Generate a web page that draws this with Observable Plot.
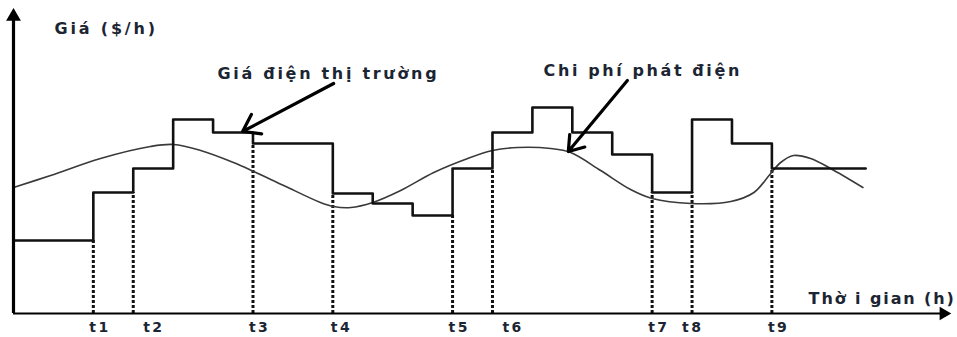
<!DOCTYPE html>
<html>
<head>
<meta charset="utf-8">
<script src="https://cdn.jsdelivr.net/npm/d3@7"></script>
<script src="https://cdn.jsdelivr.net/npm/@observablehq/plot@0.6"></script>
<style>
  html, body { margin: 0; padding: 0; background: #fff; }
  #chart svg { display: block; }
</style>
</head>
<body>
<div id="chart"></div>
<script>
// Market price step levels: each step starts at stepStart[i] and holds stepPrice[i]
const stepStart = [0, 2, 3, 4, 5, 6, 8, 9, 10, 11, 12, 13, 14, 15, 16, 17, 18, 19, 21.35];
const stepPrice = [73, 121, 145, 194, 181, 170, 120, 110, 98, 145, 181, 206, 181, 159, 121, 194, 170, 145, 145];

// Generation cost curve (smooth)
const costHour = [0, 0.93, 2.18, 3.43, 4.01, 4.69, 5.51, 6.02, 6.77, 7.69, 8.02, 8.45, 9.0, 9.7, 10.53, 11.38, 12.0, 12.63, 13.46, 13.96, 14.71, 15.46, 16.0, 16.97, 17.97, 18.55, 18.95, 19.22, 19.54, 19.97, 20.47, 21.28];
const costValue = [126, 138, 155, 167, 169, 163, 151, 142, 128, 111, 107, 106, 111, 123, 141, 155, 163, 166, 165, 161, 143, 124, 115, 110, 112, 121, 139, 151, 158, 155, 145, 126];

// Time marks t1..t9
const tickLabels = ["t1", "t2", "t3", "t4", "t5", "t6", "t7", "t8", "t9"];
const tickHour = [2, 3, 6, 8, 11, 12, 16, 17, 19];
const tickLabelHour = [1.9, 3.25, 5.9, 7.95, 10.9, 12.25, 15.9, 16.75, 18.9];

// Annotation texts
const yTitle = "Giá ($/h)";
const xTitle = "Thờ i gian (h)";
const priceLabel = "Giá điện thị trường";
const costLabel = "Chi phí phát điện";

// Build data tables
const steps = stepStart.map((x, i) => ({x, y: stepPrice[i]}));
const cost = costHour.map((x, i) => ({x, y: costValue[i]}));
const levelAt = (h) => {
  const i = stepStart.indexOf(h);
  return Math.min(stepPrice[i], stepPrice[i - 1]);
};
const ticks = tickHour.map((h, i) => ({x: h, y: levelAt(h), label: tickLabels[i], lx: tickLabelHour[i]}));

const textColor = "#1c2533";
const font = "'DejaVu Sans', sans-serif";

const chart = Plot.plot({
  width: 957,
  height: 337,
  marginLeft: 13,
  marginRight: 6,
  marginTop: 10,
  marginBottom: 24,
  x: {domain: [0, 23.5], axis: null},
  y: {domain: [0, 303], axis: null},
  style: {fontFamily: font, background: "#fff", overflow: "visible"},
  marks: [
    // dotted verticals
    Plot.ruleX(ticks, {x: "x", y1: 0, y2: "y", stroke: "#111", strokeWidth: 3, strokeDasharray: "3,2"}),
    // cost curve
    Plot.line(cost, {x: "x", y: "y", curve: "catmull-rom", stroke: "#3a3a3a", strokeWidth: 1.6}),
    // market price step line
    Plot.line(steps, {x: "x", y: "y", curve: "step-after", stroke: "#111", strokeWidth: 2.6}),
    // axes
    Plot.ruleX([0], {y1: 0, y2: 296, stroke: "#000", strokeWidth: 3.2}),
    Plot.ruleY([0], {x1: 0, x2: 23.3, stroke: "#000", strokeWidth: 2}),
    Plot.dot([{x: 0, y: 297}], {x: "x", y: "y", symbol: "triangle", r: 5.5, fill: "#000", stroke: "none"}),
    Plot.dot([{x: 23.3, y: 0}], {x: "x", y: "y", symbol: "triangle", r: 5, fill: "#000", stroke: "none", rotate: 90}),
    // annotation arrows
    Plot.arrow([{x1: 8.02, y1: 230, x2: 5.74, y2: 182}], {x1: "x1", y1: "y1", x2: "x2", y2: "y2", stroke: "#000", strokeWidth: 3.2, headLength: 9, headAngle: 70}),
    Plot.arrow([{x1: 15.38, y1: 233, x2: 13.9, y2: 162}], {x1: "x1", y1: "y1", x2: "x2", y2: "y2", stroke: "#000", strokeWidth: 3.2, headLength: 8, headAngle: 70}),
    // texts
    Plot.text([yTitle], {x: 1.03, y: 285, text: d => d, textAnchor: "start", fontSize: 16, fontWeight: 700, fill: textColor}),
    Plot.text([priceLabel], {x: 5.11, y: 240, text: d => d, textAnchor: "start", fontSize: 16, fontWeight: 700, fill: textColor}),
    Plot.text([costLabel], {x: 13.28, y: 243, text: d => d, textAnchor: "start", fontSize: 16, fontWeight: 700, fill: textColor}),
    Plot.text([xTitle], {x: 19.92, y: 15, text: d => d, textAnchor: "start", fontSize: 16, fontWeight: 700, fill: textColor}),
    Plot.text(ticks, {x: "lx", y: 0, dy: 14, text: "label", textAnchor: "start", fontSize: 14, fontWeight: 700, fill: textColor})
  ]
});

// widen the lettering like the (horizontally stretched) reference
const spacing = new Map([[yTitle, 2.8], [priceLabel, 2.7], [costLabel, 2.6], [xTitle, 1.9]]);
d3.select(chart).selectAll("text").each(function () {
  const t = this.textContent;
  const s = spacing.has(t) ? spacing.get(t) : (tickLabels.includes(t) ? 2.4 : 0);
  this.style.letterSpacing = s + "px";
});
document.getElementById("chart").appendChild(chart);
</script>
</body>
</html>
